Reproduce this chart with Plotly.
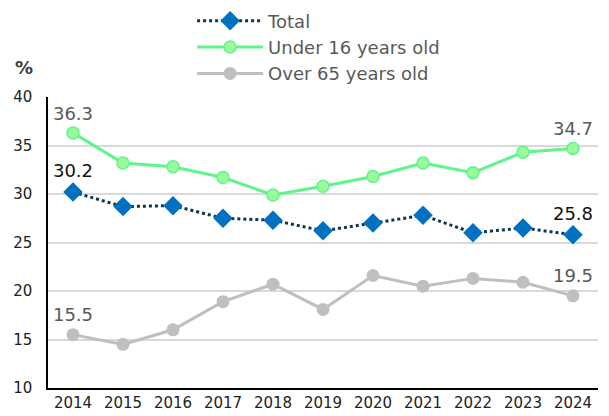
import plotly.graph_objects as go

years = [str(y) for y in range(2014, 2025)]
total = [30.2, 28.7, 28.8, 27.5, 27.3, 26.2, 27.0, 27.8, 26.0, 26.5, 25.8]
under16 = [36.3, 33.2, 32.8, 31.7, 29.9, 30.8, 31.8, 33.2, 32.2, 34.3, 34.7]
over65 = [15.5, 14.5, 16.0, 18.9, 20.7, 18.1, 21.6, 20.5, 21.3, 20.9, 19.5]

FONT = "Verdana, DejaVu Sans, sans-serif"


def end_labels(vals):
    return [f"{v:.1f}" if i in (0, len(vals) - 1) else "" for i, v in enumerate(vals)]


fig = go.Figure()

fig.add_trace(go.Scatter(
    name="Total", x=years, y=total,
    mode="lines+markers+text", cliponaxis=False,
    line=dict(color="#0d3550", width=3, dash="dot"),
    marker=dict(symbol="diamond", size=15, color="#0070c0"),
    text=end_labels(total),
    textposition="top center",
    textfont=dict(color="#111111", size=18, family=FONT),
))

fig.add_trace(go.Scatter(
    name="Under 16 years old", x=years, y=under16,
    mode="lines+markers+text", cliponaxis=False,
    line=dict(color="#5ff58c", width=3),
    marker=dict(symbol="circle", size=12, color="#99fb99",
                line=dict(color="#5ff58c", width=1.5)),
    text=end_labels(under16),
    textposition="top center",
    textfont=dict(color="#595959", size=18, family=FONT),
))

fig.add_trace(go.Scatter(
    name="Over 65 years old", x=years, y=over65,
    mode="lines+markers+text", cliponaxis=False,
    line=dict(color="#bfbfbf", width=3),
    marker=dict(symbol="circle", size=13, color="#bfbfbf"),
    text=end_labels(over65),
    textposition="top center",
    textfont=dict(color="#595959", size=18, family=FONT),
))

fig.add_annotation(
    text="<b>%</b>", xref="paper", yref="paper",
    x=-0.043, y=1.1, xanchor="center", yanchor="middle",
    showarrow=False, font=dict(size=18, color="#404040", family=FONT),
)

# page body adds an 8px offset, so margins are shifted to compensate
fig.update_layout(
    width=609, height=416,
    margin=dict(l=40, r=19, t=89, b=36, autoexpand=False),
    plot_bgcolor="white", paper_bgcolor="white",
    font=dict(family=FONT, size=15, color="#333333"),
    showlegend=True,
    legend=dict(
        x=0.262, y=1.325, xanchor="left", yanchor="top",
        font=dict(size=18, color="#595959", family=FONT),
        itemwidth=66, tracegroupgap=0, bgcolor="rgba(0,0,0,0)",
    ),
    xaxis=dict(
        type="category", range=[-0.5, 10.5],
        showline=True, linecolor="black", linewidth=1.5,
        showgrid=False, ticks="", tickfont=dict(size=15, color="#222222"),
    ),
    yaxis=dict(
        range=[10, 40], dtick=5,
        showline=True, linecolor="black", linewidth=1.5,
        showgrid=True, gridcolor="#d9d9d9", gridwidth=1.5,
        ticks="", zeroline=False, ticklabelstandoff=11,
        tickfont=dict(size=15, color="#222222"),
    ),
)

fig.write_html("out.html")
